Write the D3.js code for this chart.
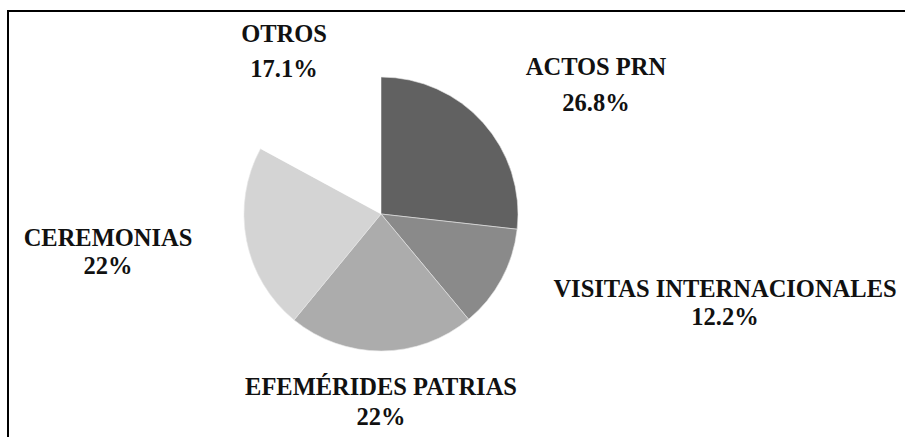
<!DOCTYPE html>
<html>
<head>
<meta charset="utf-8">
<script src="https://cdn.jsdelivr.net/npm/d3@7"></script>
<style>
  body { margin: 0; background: #fff; }
  svg { display: block; }
  .lbl { font-family: "Liberation Serif", "Times New Roman", Times, "DejaVu Serif", serif; font-weight: bold; font-size: 24.5px; fill: #111; }
</style>
</head>
<body>
<svg id="chart"></svg>
<script>
const categories = ["ACTOS PRN", "VISITAS INTERNACIONALES", "EFEMÉRIDES PATRIAS", "CEREMONIAS", "OTROS"];
const values = [26.8, 12.2, 22, 22, 17.1];
const valueLabels = ["26.8%", "12.2%", "22%", "22%", "17.1%"];

const width = 905, height = 437;
const svg = d3.select("#chart").attr("width", width).attr("height", height);

// frame (right and bottom edges fall outside the picture)
svg.append("rect")
  .attr("x", 8).attr("y", 11)
  .attr("width", 1000).attr("height", 1000)
  .attr("fill", "none").attr("stroke", "#000").attr("stroke-width", 2);

const cx = 381, cy = 214, r = 137;
const color = d3.scaleOrdinal()
  .domain(categories)
  .range(["#616161", "#8a8a8a", "#acacac", "#d4d4d4", "#ffffff"]);

const pie = d3.pie().sort(null).value(d => d.value);
const arc = d3.arc().innerRadius(0).outerRadius(r);
const data = categories.map((c, i) => ({ name: c, value: values[i], label: valueLabels[i] }));

const g = svg.append("g").attr("transform", `translate(${cx},${cy})`);
g.selectAll("path")
  .data(pie(data))
  .join("path")
  .attr("d", arc)
  .attr("fill", d => color(d.data.name))
  .attr("stroke", d => d.data.name === "OTROS" ? "none" : "#e8e8e8")
  .attr("stroke-width", 0.6);

// label anchors: [x of centre, baseline of name, baseline of value]
const labelPos = {
  "ACTOS PRN": [596, 75, 111],
  "VISITAS INTERNACIONALES": [725, 297, 325],
  "EFEMÉRIDES PATRIAS": [381, 395, 425],
  "CEREMONIAS": [108, 246, 274],
  "OTROS": [284, 42, 77]
};

const labels = svg.append("g").attr("text-anchor", "middle");

data.forEach(d => {
  const [x, y1, y2] = labelPos[d.name];
  labels.append("text").attr("class", "lbl")
    .attr("transform", `translate(${x},${y1}) scale(1,1.06)`)
    .text(d.name);
  labels.append("text").attr("class", "lbl")
    .attr("transform", `translate(${x},${y2}) scale(1,1.06)`)
    .text(d.label);
});
</script>
</body>
</html>
